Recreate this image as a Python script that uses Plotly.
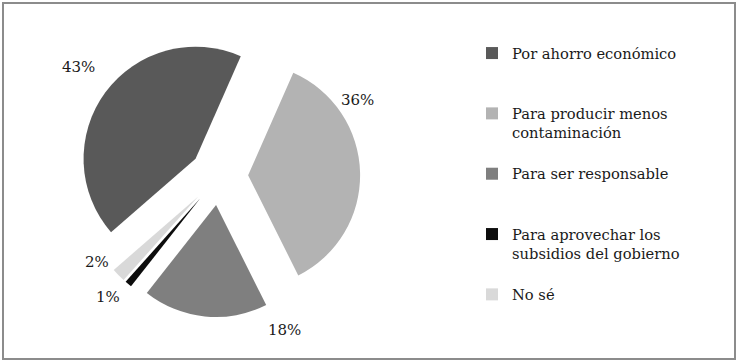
import plotly.graph_objects as go

categories = ['Por ahorro económico', 'Para producir menos contaminación',
              'Para ser responsable', 'Para aprovechar los subsidios del gobierno', 'No sé']
values = [43, 36, 18, 1, 2]
colors = ['#595959', '#b3b3b3', '#7f7f7f', '#0d0d0d', '#d9d9d9']

# legend text: wrapped and padded to 3 lines so entries are spaced like the original
wrapped = ['Por ahorro económico', 'Para producir menos<br>contaminación',
           'Para ser responsable', 'Para aprovechar los<br>subsidios del gobierno', 'No sé']
legend_labels = [w + '<br> ' * (3 - 1 - w.count('<br>')) for w in wrapped]

# where Excel put the percentage labels (pixels)
label_pos = [(78, 67), (357, 100), (284, 330), (108, 297), (97, 262)]

W, H = 738, 363
cx, cy, r, pull = 219, 176, 112, 0.26
half = r * (1 + pull)

fig = go.Figure(go.Pie(
    labels=legend_labels, values=values, sort=False,
    direction='clockwise', rotation=229, pull=pull,
    marker=dict(colors=colors, line=dict(width=0)),
    textinfo='none', hoverinfo='percent',
    domain=dict(x=[(cx - half) / W, (cx + half) / W],
                y=[1 - (cy + half) / H, 1 - (cy - half) / H]),
))

total = sum(values)
for v, (x, y) in zip(values, label_pos):
    fig.add_annotation(text=f"{round(100 * v / total)}%", x=x / W, y=1 - y / H,
                       xref='paper', yref='paper', xanchor='center', yanchor='middle',
                       showarrow=False,
                       font=dict(family='DejaVu Serif', size=15, color='#1a1a1a'))

fig.add_shape(type='rect', xref='paper', yref='paper', x0=3 / W, x1=1 - 3 / W, y0=4 / H, y1=1 - 3 / H,
              line=dict(color='#8c8c8c', width=2))

fig.update_layout(
    width=W, height=H, margin=dict(l=0, r=0, t=0, b=0),
    paper_bgcolor='white', plot_bgcolor='white',
    font=dict(family='DejaVu Serif', size=14, color='#1a1a1a'),
    legend=dict(x=472 / W, y=1 - 37 / H, xanchor='left', yanchor='top', valign='top',
                font=dict(size=14.7)),
)
fig.write_html("out.html", config={'displayModeBar': False},
               post_script="document.body.style.margin='0px';document.body.style.overflow='hidden';")
